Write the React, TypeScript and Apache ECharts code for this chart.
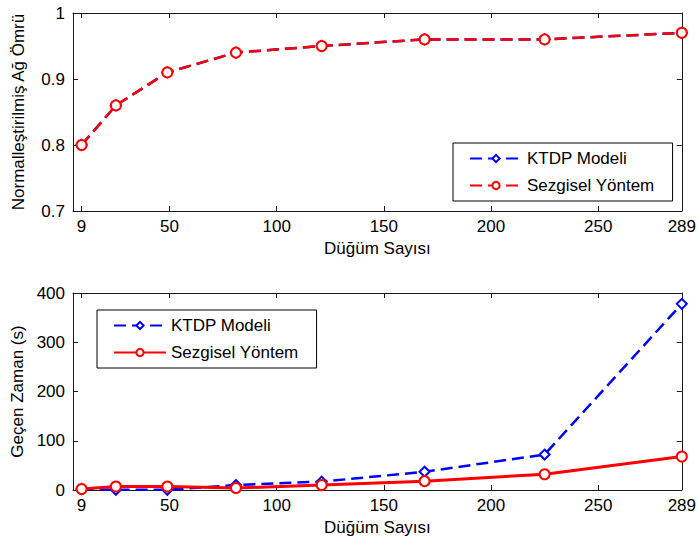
import React, { useEffect, useRef } from "react";
import * as echarts from "echarts";

// Network sizes (number of nodes) on the shared x axis
const nodeCounts = [9, 25, 49, 81, 121, 169, 225, 289];
const xTickValues = [9, 50, 100, 150, 200, 250, 289];

// Normalised network lifetime
const lifetimeKtdp = [0.8, 0.86, 0.91, 0.94, 0.95, 0.96, 0.96, 0.97];
const lifetimeHeuristic = [0.8, 0.86, 0.91, 0.94, 0.95, 0.96, 0.96, 0.97];

// Elapsed time in seconds
const timeKtdp = [2, 0.5, 0.5, 10, 17, 37, 72, 378];
const timeHeuristic = [2, 7, 7, 4, 10, 18, 32, 68];

const KTDP = "KTDP Modeli";
const HEUR = "Sezgisel Yöntem";

const FONT = "'Liberation Sans', Arial, Helvetica, sans-serif";
const AXIS_COLOR = "#1a1a1a";
const BLUE = "#0000ff";
const RED = "#ff0000";

const pairs = (ys: number[]) => nodeCounts.map((x, i) => [x, ys[i]]);

function xAxes(name: string) {
  const common = {
    type: "value" as const,
    min: 5,
    max: 289,
    splitLine: { show: false },
    axisLine: { show: true, onZero: false, lineStyle: { color: AXIS_COLOR, width: 1 } },
    axisTick: {
      show: true,
      inside: true,
      length: 5,
      customValues: xTickValues,
      lineStyle: { color: AXIS_COLOR },
    },
  };
  return [
    {
      ...common,
      position: "bottom",
      name,
      nameLocation: "middle",
      nameGap: 28,
      nameTextStyle: { fontFamily: FONT, fontSize: 17, color: "#000" },
      axisLabel: {
        customValues: xTickValues,
        margin: 7,
        fontFamily: FONT,
        fontSize: 17,
        color: "#000",
      },
    },
    {
      ...common,
      position: "top",
      axisLabel: { show: false },
    },
  ];
}

function yAxes(name: string, min: number, max: number, interval: number) {
  const common = {
    type: "value" as const,
    min,
    max,
    interval,
    splitLine: { show: false },
    axisLine: { show: true, onZero: false, lineStyle: { color: AXIS_COLOR, width: 1 } },
    axisTick: { show: true, inside: true, length: 5, lineStyle: { color: AXIS_COLOR } },
  };
  return [
    {
      ...common,
      position: "left",
      name,
      nameLocation: "middle",
      nameGap: 46,
      nameTextStyle: { fontFamily: FONT, fontSize: 17, color: "#000" },
      axisLabel: { margin: 8, fontFamily: FONT, fontSize: 17, color: "#000" },
    },
    {
      ...common,
      position: "right",
      axisLabel: { show: false },
    },
  ];
}

function legend(left: number, top: number) {
  return {
    left,
    top,
    orient: "vertical",
    selectedMode: false,
    backgroundColor: "#fff",
    borderColor: "#000",
    borderWidth: 1,
    borderRadius: 0,
    padding: [7, 18, 7, 16],
    itemWidth: 52,
    itemHeight: 9,
    itemGap: 10,
    textStyle: { fontFamily: FONT, fontSize: 17, color: "#000", lineHeight: 17 },
    data: [KTDP, HEUR],
  };
}

function lineSeries(
  name: string,
  ys: number[],
  color: string,
  symbol: string,
  dashed: boolean,
  width: number
) {
  return {
    name,
    type: "line",
    data: pairs(ys),
    symbol,
    symbolSize: 10,
    showAllSymbol: true,
    color,
    lineStyle: { color, width, type: dashed ? [12, 6] : "solid" },
    itemStyle: { color, borderColor: color, borderWidth: 2 },
    emphasis: { disabled: true },
  };
}

export default function App() {
  const topRef = useRef<HTMLDivElement>(null);
  const bottomRef = useRef<HTMLDivElement>(null);

  useEffect(() => {
    if (!topRef.current || !bottomRef.current) return;
    const top = echarts.init(topRef.current, undefined, { renderer: "svg" });
    const bottom = echarts.init(bottomRef.current, undefined, { renderer: "svg" });

    top.setOption({
      animation: false,
      backgroundColor: "#fff",
      grid: { left: 73, top: 13, width: 611, height: 198, show: false },
      xAxis: xAxes("Düğüm Sayısı"),
      yAxis: yAxes("Normalleştirilmiş Ağ Ömrü", 0.7, 1, 0.1),
      legend: legend(453, 143),
      series: [
        lineSeries(KTDP, lifetimeKtdp, BLUE, "emptyDiamond", true, 2.5),
        lineSeries(HEUR, lifetimeHeuristic, RED, "emptyCircle", true, 2.5),
      ],
    });

    bottom.setOption({
      animation: false,
      backgroundColor: "#fff",
      grid: { left: 73, top: 20, width: 611, height: 197, show: false },
      xAxis: xAxes("Düğüm Sayısı"),
      yAxis: yAxes("Geçen Zaman (s)", 0, 400, 100),
      legend: legend(97, 310 - 273),
      series: [
        lineSeries(KTDP, timeKtdp, BLUE, "emptyDiamond", true, 2.5),
        lineSeries(HEUR, timeHeuristic, RED, "emptyCircle", false, 3),
      ],
    });

    return () => {
      top.dispose();
      bottom.dispose();
    };
  }, []);

  return (
    <div
      style={{
        position: "absolute",
        left: 0,
        top: 0,
        width: 699,
        height: 546,
        background: "#fff",
      }}
    >
      <div ref={topRef} style={{ width: 699, height: 273 }} />
      <div ref={bottomRef} style={{ width: 699, height: 273 }} />
    </div>
  );
}
